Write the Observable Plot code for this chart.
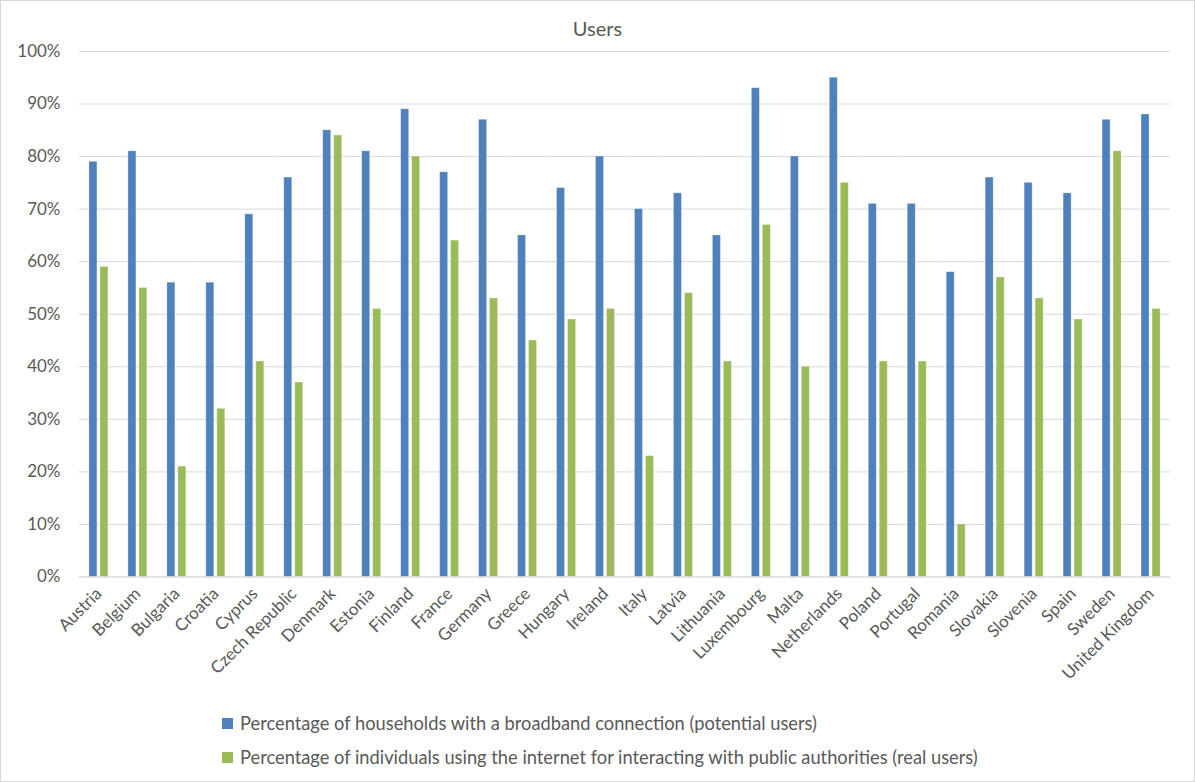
<!DOCTYPE html>
<html>
<head>
<meta charset="utf-8">
<script src="https://cdn.jsdelivr.net/npm/d3@7"></script>
<script src="https://cdn.jsdelivr.net/npm/@observablehq/plot@0.6"></script>
<style>
  html, body { margin: 0; padding: 0; background: #fff; }
  #chart { position: relative; width: 1193px; height: 780px; border: 1px solid #d9d9d9; overflow: hidden; font-family: Lato, "Open Sans", sans-serif; color: #595959; }
  #title { position: absolute; left: 0; top: 15px; width: 100%; text-align: center; font-size: 20px; color: #595959; }
  #plot { position: absolute; left: -1px; top: -1px; }
  #legend { position: absolute; left: 221px; top: 711px; font-size: 18.3px; color: #595959; }
  .item { height: 34px; display: flex; align-items: flex-start; }
  .sw { width: 11px; height: 11px; margin-right: 7px; margin-top: 6px; }
</style>
</head>
<body>
<div id="chart">
  <div id="plot"></div>
  <div id="title">Users</div>
  <div id="legend"></div>
</div>
<script>
const countries = ["Austria","Belgium","Bulgaria","Croatia","Cyprus","Czech Republic","Denmark","Estonia","Finland","France","Germany","Greece","Hungary","Ireland","Italy","Latvia","Lithuania","Luxembourg","Malta","Netherlands","Poland","Portugal","Romania","Slovakia","Slovenia","Spain","Sweden","United Kingdom"];
const broadband = [79,81,56,56,69,76,85,81,89,77,87,65,74,80,70,73,65,93,80,95,71,71,58,76,75,73,87,88];
const realUsers = [59,55,21,32,41,37,84,51,80,64,53,45,49,51,23,54,41,67,40,75,41,41,10,57,53,49,81,51];
const seriesNames = [
  "Percentage of households with a broadband connection (potential users)",
  "Percentage of individuals using the internet for interacting with public authorities (real users)"
];
const seriesColors = ["#4f81bd", "#9bbb59"];
const yTicks = [0,0.1,0.2,0.3,0.4,0.5,0.6,0.7,0.8,0.9,1.0];

const data = [];
countries.forEach((c, i) => {
  data.push({country: c, series: seriesNames[0], value: broadband[i] / 100});
  data.push({country: c, series: seriesNames[1], value: realUsers[i] / 100});
});

const plot = Plot.plot({
  width: 1195,
  height: 700,
  marginTop: 51,
  marginLeft: 73,
  marginRight: 19,
  marginBottom: 123,
  style: {fontFamily: "Lato, 'Open Sans', sans-serif", fontSize: "17px", color: "#595959", background: "transparent"},
  fx: {domain: countries, padding: 0, label: null, tickRotate: -45, tickSize: 0, tickPadding: 14},
  x: {domain: seriesNames, paddingInner: 0.26, paddingOuter: 0.84, axis: null},
  y: {domain: [0, 1], ticks: yTicks, tickFormat: d3.format(".0%"), label: null, tickSize: 0, tickPadding: 19},
  color: {domain: seriesNames, range: seriesColors},
  marks: [
    Plot.gridY(yTicks, {stroke: "#d9d9d9", strokeOpacity: 1, strokeWidth: 1}),
    Plot.barY(data, {fx: "country", x: "series", y: "value", fill: "series", stroke: "#ffffff", strokeOpacity: 0.35, strokeWidth: 0.8}),
    Plot.ruleY([0], {stroke: "#d9d9d9", strokeWidth: 1})
  ]
});
document.getElementById("plot").appendChild(plot);

const legend = document.getElementById("legend");
seriesNames.forEach((s, i) => {
  const item = document.createElement("div");
  item.className = "item";
  const sw = document.createElement("div");
  sw.className = "sw";
  sw.style.background = seriesColors[i];
  const t = document.createElement("span");
  t.textContent = s;
  item.appendChild(sw);
  item.appendChild(t);
  legend.appendChild(item);
});
</script>
</body>
</html>
